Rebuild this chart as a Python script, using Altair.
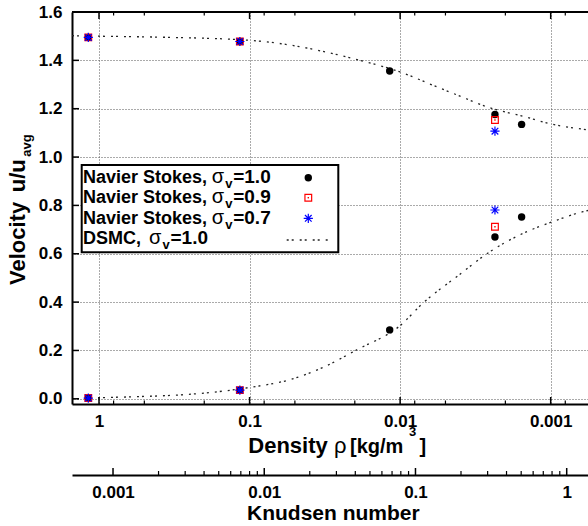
import altair as alt
import pandas as pd

W, H = 516, 392
FONT = "Liberation Sans"

# ---------------- data ----------------
# Navier Stokes, sigma_v = 1.0 (upper and lower branch)
ns10_rho = [1.178, 0.116, 0.01173, 0.002345, 0.00156]
ns10_top = [1.495, 1.478, 1.356, 1.176, 1.135]
ns10_bot = [0.003, 0.036, 0.285, 0.669, 0.752]
# Navier Stokes, sigma_v = 0.9
ns09_rho = [1.178, 0.116, 0.002345]
ns09_top = [1.495, 1.478, 1.153]
ns09_bot = [0.003, 0.036, 0.712]
# Navier Stokes, sigma_v = 0.7
ns07_rho = [1.178, 0.116, 0.002345]
ns07_top = [1.495, 1.478, 1.107]
ns07_bot = [0.003, 0.036, 0.781]
# DSMC, sigma_v = 1.0
dsmc_up_rho = [1.511, 1.0, 0.34, 0.1, 0.05, 0.0325, 0.0185, 0.01, 0.00605, 0.00423, 0.00254, 0.00153, 0.000966, 0.000611, 0.000565]
dsmc_up_u = [1.502, 1.500, 1.495, 1.483, 1.460, 1.437, 1.400, 1.352, 1.297, 1.258, 1.204, 1.169, 1.135, 1.115, 1.112]
dsmc_lo_rho = [1.511, 1.0, 0.214, 0.1, 0.054, 0.0325, 0.0195, 0.01, 0.00705, 0.00423, 0.00254, 0.00153, 0.000966, 0.000611, 0.000565]
dsmc_lo_u = [0.0, 0.004, 0.022, 0.047, 0.079, 0.130, 0.202, 0.303, 0.396, 0.504, 0.608, 0.684, 0.733, 0.774, 0.779]

# axis ticks
rho_ticks = [1, 0.1, 0.01, 0.001]
rho_minor = [0.8, 0.5, 0.2, 0.08, 0.05, 0.02, 0.008, 0.005, 0.002, 0.0008]
u_ticks = [0.0, 0.2, 0.4, 0.6, 0.8, 1.0, 1.2, 1.4, 1.6]
kn_ticks = [0.001, 0.01, 0.1, 1]
kn_minor = [0.002, 0.003, 0.004, 0.005, 0.006, 0.007, 0.008, 0.009,
            0.02, 0.03, 0.04, 0.05, 0.06, 0.07, 0.08, 0.09,
            0.2, 0.3, 0.4, 0.5, 0.6, 0.7, 0.8, 0.9]

legend_pre = ["Navier Stokes, ", "Navier Stokes, ", "Navier Stokes, ", "DSMC, "]
legend_post = ["=1.0", "=0.9", "=0.7", "=1.0"]

# ---------------- scales / axes ----------------
xscale = alt.Scale(type="log", domain=[0.0005652, 1.5113], reverse=True, nice=False)
yscale = alt.Scale(domain=[-0.0215, 1.6], nice=False, zero=False)
knscale = alt.Scale(type="log", domain=[0.0005355, 1.383], nice=False)

xaxis = alt.Axis(values=rho_ticks, format=".3~f", title=None, grid=True,
                 gridDash=[1, 2], gridColor="#555555", ticks=False, tickSize=0,
                 labelPadding=9, domainWidth=2, domainColor="black")
yaxis = alt.Axis(values=u_ticks, format=".1f", title=None, grid=True,
                 gridDash=[1, 2], gridColor="#555555", ticks=False, tickSize=0,
                 labelPadding=10, domainWidth=2, domainColor="black")
knaxis = alt.Axis(values=kn_ticks, format=".3~f", title=None, grid=False,
                  ticks=False, tickSize=0, labelPadding=9, offset=71,
                  orient="bottom", domainWidth=2, domainColor="black")

X = lambda: alt.X("rho:Q", scale=xscale, axis=xaxis)
Y = lambda: alt.Y("u:Q", scale=yscale, axis=yaxis)


def frame(rho, u):
    return pd.DataFrame({"rho": rho, "u": u})


one = pd.DataFrame({"k": [0]})


def txt(s, x, y, size, weight="bold", align="left", angle=0):
    return alt.Chart(one).mark_text(
        font=FONT, fontSize=size, fontWeight=weight, align=align,
        baseline="alphabetic", angle=angle, color="black"
    ).encode(x=alt.value(x), y=alt.value(y), text=alt.value(s))


ASTERISK = "M-1,0L1,0M0,-1L0,1M-0.72,-0.72L0.72,0.72M-0.72,0.72L0.72,-0.72"
DASH = [2, 3, 2, 6]

layers = []
# DSMC curves
for r, u in [(dsmc_up_rho, dsmc_up_u), (dsmc_lo_rho, dsmc_lo_u)]:
    layers.append(
        alt.Chart(frame(r, u)).mark_line(
            color="#222222", strokeWidth=1.3, strokeDash=DASH,
            interpolate="monotone", clip=True
        ).encode(x=X(), y=Y(), order=alt.Order("rho:Q", sort="descending"))
    )

# NS points
layers.append(
    alt.Chart(frame(ns10_rho * 2, ns10_top + ns10_bot)).mark_point(
        shape="circle", filled=True, size=55, color="black", opacity=1
    ).encode(x=X(), y=Y())
)
layers.append(
    alt.Chart(frame(ns09_rho * 2, ns09_top + ns09_bot)).mark_point(
        shape="square", filled=False, size=45, color="#ff0000", strokeWidth=1.2, opacity=1
    ).encode(x=X(), y=Y())
)
layers.append(
    alt.Chart(frame(ns09_rho * 2, ns09_top + ns09_bot)).mark_point(
        shape="square", filled=True, size=2, color="#ff0000", opacity=1
    ).encode(x=X(), y=Y())
)
layers.append(
    alt.Chart(frame(ns07_rho * 2, ns07_top + ns07_bot)).mark_point(
        shape=ASTERISK, filled=False, size=85, color="#0000ff", strokeWidth=1.2, opacity=1
    ).encode(x=X(), y=Y())
)

# tick marks (inward)
layers.append(alt.Chart(pd.DataFrame({"rho": rho_ticks})).mark_rule(color="black", strokeWidth=1.5)
              .encode(x=X(), y=alt.value(0), y2=alt.value(7)))
layers.append(alt.Chart(pd.DataFrame({"rho": rho_ticks})).mark_rule(color="black", strokeWidth=1.5)
              .encode(x=X(), y=alt.value(H), y2=alt.value(H - 7)))
layers.append(alt.Chart(pd.DataFrame({"rho": rho_minor})).mark_rule(color="black", strokeWidth=1.2)
              .encode(x=X(), y=alt.value(0), y2=alt.value(3.5)))
layers.append(alt.Chart(pd.DataFrame({"rho": rho_minor})).mark_rule(color="black", strokeWidth=1.2)
              .encode(x=X(), y=alt.value(H), y2=alt.value(H - 3.5)))
layers.append(alt.Chart(pd.DataFrame({"u": u_ticks})).mark_rule(color="black", strokeWidth=1.5)
              .encode(y=Y(), x=alt.value(0), x2=alt.value(7)))
# top frame line
layers.append(alt.Chart(one).mark_rule(color="black", strokeWidth=2)
              .encode(x=alt.value(0), x2=alt.value(W), y=alt.value(0)))

# legend
layers.append(alt.Chart(one).mark_rect(fill="white", stroke="black", strokeWidth=2)
              .encode(x=alt.value(9.7), x2=alt.value(266.3), y=alt.value(153), y2=alt.value(240.3)))
sig_x = [139.7, 139.7, 139.7, 77]
for i in range(4):
    yb = 170.7 + 20.55 * i
    layers.append(txt(legend_pre[i], 11, yb, 18))
    layers.append(txt("σ", sig_x[i], yb, 20, weight="normal"))
    layers.append(txt("v", sig_x[i] + 13.5, yb + 5, 13))
    layers.append(txt(legend_post[i], sig_x[i] + 21.5, yb, 19))
layers.append(alt.Chart(one).mark_point(shape="circle", filled=True, size=55, color="black", opacity=1)
              .encode(x=alt.value(236.3), y=alt.value(165.7)))
layers.append(alt.Chart(one).mark_point(shape="square", filled=False, size=45, color="#ff0000", strokeWidth=1.2, opacity=1)
              .encode(x=alt.value(236.3), y=alt.value(185.7)))
layers.append(alt.Chart(one).mark_point(shape="square", filled=True, size=2, color="#ff0000", opacity=1)
              .encode(x=alt.value(236.3), y=alt.value(185.7)))
layers.append(alt.Chart(one).mark_point(shape=ASTERISK, filled=False, size=85, color="#0000ff", strokeWidth=1.2, opacity=1)
              .encode(x=alt.value(236.3), y=alt.value(206.3)))
layers.append(alt.Chart(one).mark_rule(color="#222222", strokeWidth=1.3, strokeDash=DASH)
              .encode(x=alt.value(214.7), x2=alt.value(256.3), y=alt.value(228)))

# axis titles as text pieces
layers.append(txt("Velocity", -47, 273, 22, angle=270))
layers.append(txt("u/u", -47, 147.3, 22, align="right", angle=270))
layers.append(txt("avg", -41.3, 144.7, 13, angle=270))
layers.append(txt("Density", 176.3, 441.3, 22))
layers.append(txt("ρ", 262, 441.3, 22, weight="normal"))
layers.append(txt("[kg/m", 278, 441.3, 20))
layers.append(txt("3", 337, 424, 13))
layers.append(txt("]", 347.5, 441.3, 20))
layers.append(txt("Knudsen number", 175, 508, 21))

main = alt.layer(*layers)

# Knudsen number axis (second x scale)
KX = lambda: alt.X("kn:Q", scale=knscale, axis=knaxis)
kn_layer = alt.layer(
    alt.Chart(pd.DataFrame({"kn": kn_ticks})).mark_rule(color="black", strokeWidth=1.5)
    .encode(x=KX(), y=alt.value(H + 71), y2=alt.value(H + 64)),
    alt.Chart(pd.DataFrame({"kn": kn_minor})).mark_rule(color="black", strokeWidth=1.2)
    .encode(x=KX(), y=alt.value(H + 71), y2=alt.value(H + 67)),
)

chart = alt.layer(main, kn_layer).resolve_scale(x="independent").properties(
    width=W, height=H, autosize="none",
    padding={"left": 72, "top": 12, "right": 0, "bottom": 526 - 12 - H},
    background="white",
).configure_view(stroke=None).configure_axis(
    labelFont=FONT, labelFontWeight="bold", labelFontSize=17, labelColor="black",
).configure_text(font=FONT)

chart.save("out.html", embed_options={"renderer": "svg", "actions": False})
